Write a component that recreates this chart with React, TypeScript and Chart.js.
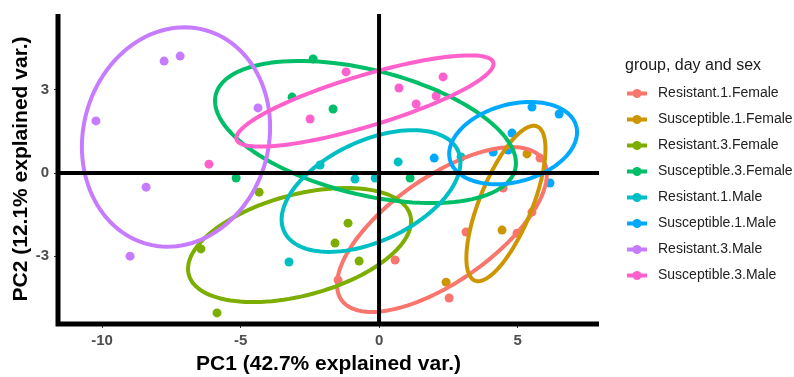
import { useEffect, useRef } from "react";
import { Chart, registerables } from "chart.js";

Chart.register(...registerables);

const FONT = '"Liberation Sans", Arial, sans-serif';

const groups = [
  "Resistant.1.Female",
  "Susceptible.1.Female",
  "Resistant.3.Female",
  "Susceptible.3.Female",
  "Resistant.1.Male",
  "Susceptible.1.Male",
  "Resistant.3.Male",
  "Susceptible.3.Male",
];
const colors = ["#F8766D", "#CD9600", "#7CAE00", "#00BE67", "#00BFC4", "#00A9FF", "#C77CFF", "#FF61CC"];

const xTicks = [-10, -5, 0, 5];
const yTicks = [-3, 0, 3];
const xTitle = "PC1 (42.7% explained var.)";
const yTitle = "PC2 (12.1% explained var.)";
const legendTitle = "group, day and sex";

// PC scores per group
const r1fX = [5.81, 4.48, 5.52, 4.98, 3.14, 2.53, -1.48, 0.58];
const r1fY = [0.54, -0.54, -1.41, -2.17, -2.13, -4.51, -3.86, -3.14];
const s1fX = [5.34, 4.44, 2.42];
const s1fY = [0.69, -2.06, -3.94];
const r3fX = [-4.33, -6.43, -5.85, -1.12, -1.59, -0.72];
const r3fY = [-0.69, -2.74, -5.05, -1.81, -2.53, -3.18];
const s3fX = [-2.38, -3.14, -1.66, -5.16, 1.12];
const s3fY = [4.12, 2.74, 2.31, -0.18, -0.18];
const r1mX = [-2.13, 0.69, 2.96, -0.87, -0.14, -3.25];
const r1mY = [0.29, 0.4, 0.58, -0.22, -0.18, -3.21];
const s1mX = [5.52, 6.5, 4.8, 4.12, 4.66, 1.99, 6.17];
const s1mY = [2.38, 2.13, 1.44, 0.76, 0.83, 0.54, -0.36];
const r3mX = [-7.76, -7.18, -10.22, -4.37, -8.41, -8.99];
const r3mY = [4.04, 4.22, 1.88, 2.35, -0.51, -3.0];
const s3mX = [-1.19, 0.72, 1.34, 2.06, 2.31, -2.49, -6.14];
const s3mY = [3.65, 3.07, 2.49, 2.78, 3.47, 1.95, 0.32];

const groupX = [r1fX, s1fX, r3fX, s3fX, r1mX, s1mX, r3mX, s3mX];
const groupY = [r1fY, s1fY, r3fY, s3fY, r1mY, s1mY, r3mY, s3mY];

// 68% normal ellipses per group (data units)
const ellipseCx = [2.27, 4.58, -2.87, -0.49, -0.29, 4.84, -7.33, -0.51];
const ellipseCy = [-2.04, -1.1, -2.6, 1.48, -0.65, 1.08, 1.3, 2.6];
const ellipseA = [4.43, 3.0, 4.14, 5.57, 3.46, 2.36, 4.0, 4.84];
const ellipseB = [1.89, 0.95, 1.82, 2.25, 1.81, 1.4, 3.35, 0.92];
const ellipseAngle = [35, 68, 15, -14, 25, 15, 75, 16.7];

const overlayPlugin = {
  id: "pcaOverlay",
  afterDatasetsDraw(chart: any) {
    const { ctx, chartArea, scales } = chart;
    const xs = scales.x;
    const ys = scales.y;
    ctx.save();
    // ellipses
    for (let g = 0; g < groups.length; g++) {
      const th = (ellipseAngle[g] * Math.PI) / 180;
      const c = Math.cos(th);
      const s = Math.sin(th);
      ctx.beginPath();
      const n = 120;
      for (let i = 0; i <= n; i++) {
        const t = (i / n) * 2 * Math.PI;
        const u = ellipseA[g] * Math.cos(t);
        const v = ellipseB[g] * Math.sin(t);
        const dx = ellipseCx[g] + u * c - v * s;
        const dy = ellipseCy[g] + u * s + v * c;
        const px = xs.getPixelForValue(dx);
        const py = ys.getPixelForValue(dy);
        if (i === 0) ctx.moveTo(px, py);
        else ctx.lineTo(px, py);
      }
      ctx.closePath();
      ctx.strokeStyle = colors[g];
      ctx.lineWidth = 4;
      ctx.lineJoin = "round";
      ctx.stroke();
    }
    // zero lines
    ctx.strokeStyle = "#000";
    ctx.lineWidth = 4;
    const x0 = xs.getPixelForValue(0);
    const y0 = ys.getPixelForValue(0);
    ctx.beginPath();
    ctx.moveTo(x0, chartArea.top);
    ctx.lineTo(x0, chartArea.bottom);
    ctx.moveTo(chartArea.left, y0);
    ctx.lineTo(chartArea.right, y0);
    ctx.stroke();
    // axis lines
    ctx.lineWidth = 5;
    ctx.beginPath();
    ctx.moveTo(chartArea.left, chartArea.top);
    ctx.lineTo(chartArea.left, chartArea.bottom + 2.5);
    ctx.moveTo(chartArea.left - 2.5, chartArea.bottom);
    ctx.lineTo(chartArea.right, chartArea.bottom);
    ctx.stroke();
    ctx.restore();
  },
  afterDraw(chart: any) {
    const { ctx, chartArea } = chart;
    ctx.save();
    const lx = chartArea.right + 26;
    ctx.fillStyle = "#1a1a1a";
    ctx.textBaseline = "middle";
    ctx.textAlign = "left";
    ctx.font = `16px ${FONT}`;
    ctx.fillText(legendTitle, lx, 66);
    ctx.font = `14px ${FONT}`;
    for (let g = 0; g < groups.length; g++) {
      const y = 93.5 + g * 26;
      ctx.strokeStyle = colors[g];
      ctx.lineWidth = 4;
      ctx.beginPath();
      ctx.moveTo(lx + 2, y);
      ctx.lineTo(lx + 22, y);
      ctx.stroke();
      ctx.fillStyle = colors[g];
      ctx.beginPath();
      ctx.arc(lx + 12, y, 4.5, 0, Math.PI * 2);
      ctx.fill();
      ctx.fillStyle = "#222";
      ctx.fillText(groups[g], lx + 33, y);
    }
    ctx.restore();
  },
};

export default function App() {
  const ref = useRef<HTMLCanvasElement | null>(null);
  useEffect(() => {
    if (!ref.current) return;
    const chart = new Chart(ref.current, {
      type: "scatter",
      data: {
        datasets: groups.map((g, i) => ({
          label: g,
          data: groupX[i].map((x, j) => ({ x, y: groupY[i][j] })),
          backgroundColor: colors[i],
          borderWidth: 0,
          pointRadius: 4.5,
          pointHoverRadius: 4.5,
        })),
      },
      options: {
        animation: false,
        responsive: false,
        devicePixelRatio: 1,
        layout: { padding: { left: 0, right: 195, top: 14, bottom: 0 } },
        plugins: { legend: { display: false }, tooltip: { enabled: false } },
        scales: {
          x: {
            type: "linear",
            min: -11.59,
            max: 7.94,
            afterBuildTicks: (s: any) => {
              s.ticks = xTicks.map((v) => ({ value: v }));
            },
            afterFit: (s: any) => {
              s.height = 53;
            },
            grid: { display: true, drawOnChartArea: false, drawTicks: true, tickLength: 4, color: "#333" },
            border: { display: false },
            ticks: { font: { family: FONT, size: 15, weight: "bold" }, color: "#4D4D4D", padding: 4 },
            title: {
              display: true,
              text: xTitle,
              font: { family: FONT, size: 21, weight: "bold" },
              color: "#000",
              padding: { top: 0, bottom: 0 },
            },
          },
          y: {
            type: "linear",
            min: -5.45,
            max: 5.74,
            afterBuildTicks: (s: any) => {
              s.ticks = yTicks.map((v) => ({ value: v }));
            },
            afterFit: (s: any) => {
              s.width = 58;
            },
            grid: { display: true, drawOnChartArea: false, drawTicks: true, tickLength: 4, color: "#333" },
            border: { display: false },
            ticks: { font: { family: FONT, size: 15, weight: "bold" }, color: "#4D4D4D", padding: 5 },
            title: {
              display: true,
              text: yTitle,
              font: { family: FONT, size: 21, weight: "bold" },
              color: "#000",
              padding: { top: 9, bottom: 0 },
            },
          },
        },
      },
      plugins: [overlayPlugin],
    } as any);
    return () => chart.destroy();
  }, []);
  return (
    <div style={{ position: "absolute", left: 0, top: 0, width: 794, height: 377, background: "#fff" }}>
      <canvas ref={ref} width={794} height={377} style={{ display: "block", width: 794, height: 377 }} />
    </div>
  );
}
